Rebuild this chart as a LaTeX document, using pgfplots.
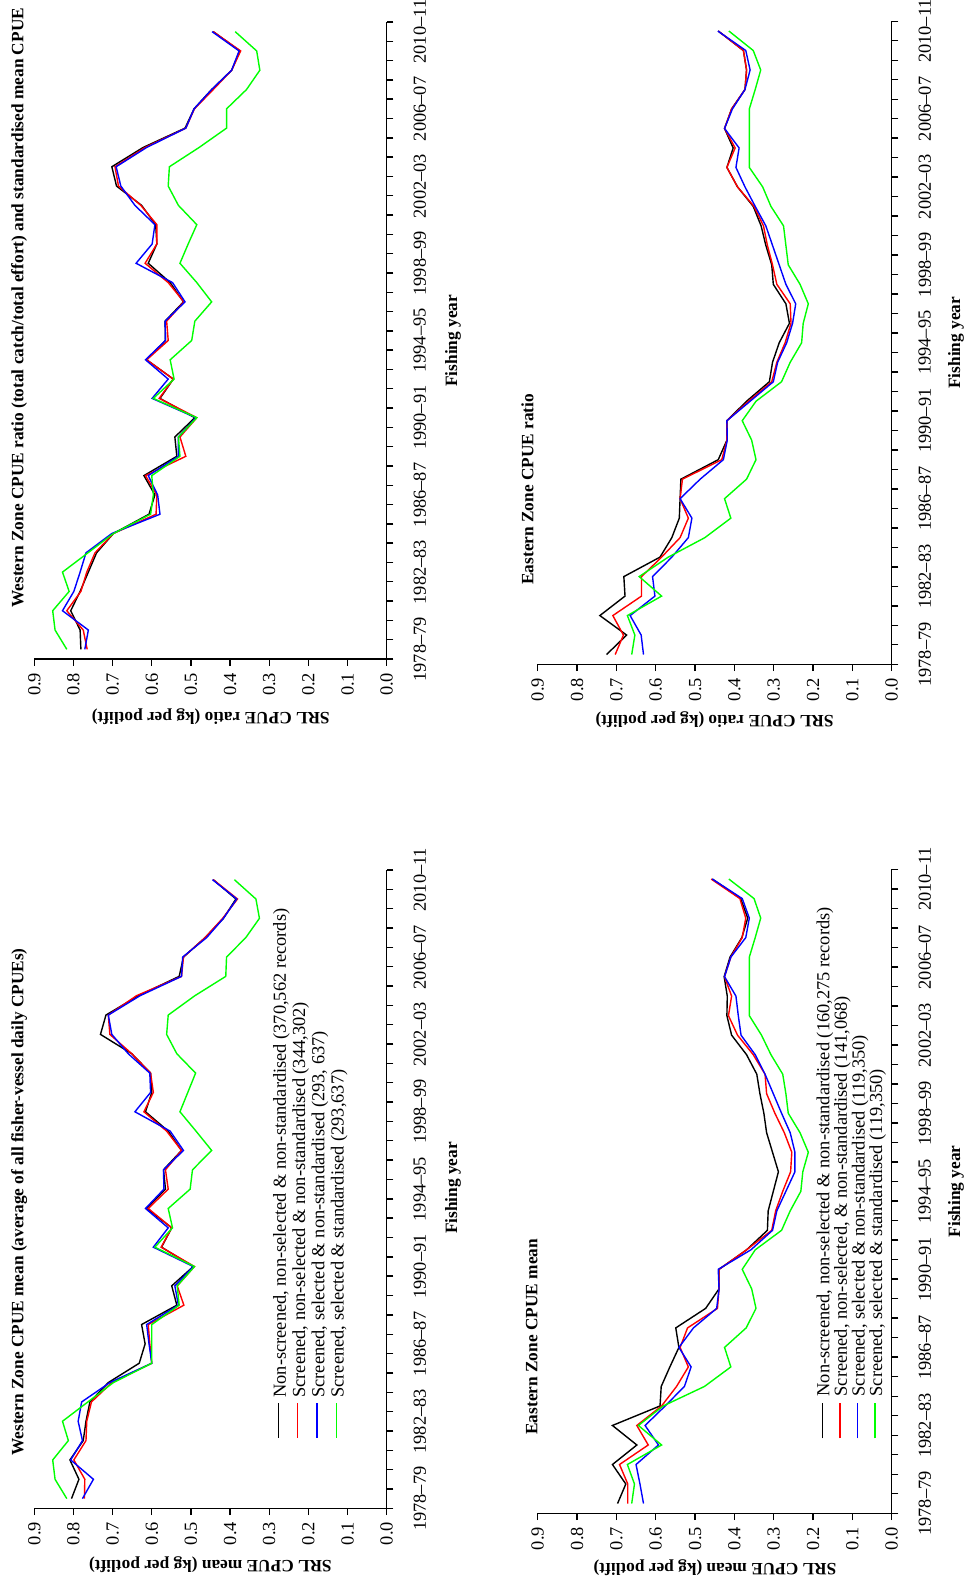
\documentclass[border=0pt]{standalone}
\usepackage{pgfplots}
\pgfplotsset{compat=1.18}
\usepackage{pgfplotstable}
\usepackage{fontspec}
\setmainfont{Liberation Serif}
\definecolor{cblack}{RGB}{0,0,0}
\definecolor{cred}{RGB}{255,0,0}
\definecolor{cblue}{RGB}{0,0,255}
\definecolor{cgreen}{RGB}{0,255,0}
\newcommand{\fs}{\fontsize{9.2}{11}\selectfont}
\newcommand{\fb}{\fontsize{8.65}{11}\selectfont\bfseries}

% Western Zone CPUE ratio
\pgfplotstableread{
yr k r b g
0 0.781 0.765 0.771 0.817
1 0.783 0.775 0.762 0.847
2 0.807 0.817 0.828 0.853
3 0.783 0.781 0.799 0.811
4 0.762 0.766 0.783 0.828
5 0.741 0.745 0.768 0.763
6 0.698 0.698 0.702 0.698
7 0.607 0.589 0.579 0.603
8 0.592 0.587 0.585 0.596
9 0.620 0.616 0.609 0.600
10 0.536 0.513 0.532 0.528
11 0.541 0.528 0.532 0.532
12 0.490 0.485 0.487 0.485
13 0.579 0.581 0.599 0.596
14 0.545 0.545 0.558 0.543
15 0.613 0.613 0.616 0.553
16 0.565 0.558 0.565 0.498
17 0.566 0.562 0.566 0.490
18 0.519 0.518 0.515 0.447
19 0.553 0.558 0.547 0.485
20 0.609 0.617 0.640 0.528
21 0.587 0.587 0.599 0.507
22 0.590 0.587 0.592 0.485
23 0.626 0.628 0.643 0.532
24 0.690 0.685 0.679 0.558
25 0.702 0.694 0.691 0.555
26 0.622 0.617 0.613 0.479
27 0.515 0.513 0.513 0.409
28 0.492 0.491 0.492 0.409
29 0.447 0.443 0.447 0.358
30 0.396 0.396 0.396 0.324
31 0.375 0.373 0.377 0.332
32 0.443 0.443 0.446 0.387
}\WR

% Western Zone CPUE mean
\pgfplotstableread{
yr k r b g
0 0.805 0.772 0.777 0.817
1 0.786 0.771 0.749 0.847
2 0.809 0.799 0.807 0.853
3 0.775 0.768 0.777 0.813
4 0.768 0.766 0.788 0.828
5 0.758 0.754 0.779 0.763
6 0.711 0.702 0.707 0.698
7 0.632 0.600 0.600 0.600
8 0.617 0.605 0.607 0.600
9 0.626 0.609 0.613 0.600
10 0.536 0.518 0.532 0.530
11 0.549 0.535 0.541 0.535
12 0.494 0.491 0.494 0.491
13 0.575 0.576 0.596 0.592
14 0.549 0.549 0.558 0.547
15 0.613 0.609 0.616 0.558
16 0.565 0.558 0.569 0.502
17 0.570 0.565 0.570 0.496
18 0.524 0.524 0.519 0.447
19 0.558 0.562 0.553 0.487
20 0.616 0.620 0.643 0.528
21 0.600 0.596 0.603 0.508
22 0.603 0.603 0.605 0.488
23 0.651 0.651 0.660 0.536
24 0.731 0.707 0.702 0.562
25 0.717 0.711 0.711 0.558
26 0.634 0.639 0.630 0.490
27 0.530 0.524 0.524 0.411
28 0.519 0.519 0.521 0.409
29 0.464 0.464 0.460 0.360
30 0.417 0.419 0.417 0.325
31 0.385 0.381 0.383 0.334
32 0.443 0.443 0.445 0.389
}\WM

% Eastern Zone CPUE ratio
\pgfplotstableread{
yr k r b g
0 0.725 0.703 0.631 0.661
1 0.674 0.682 0.637 0.653
2 0.742 0.709 0.665 0.672
3 0.678 0.636 0.602 0.585
4 0.681 0.636 0.608 0.642
5 0.589 0.585 0.559 0.568
6 0.559 0.538 0.517 0.475
7 0.540 0.517 0.508 0.409
8 0.538 0.538 0.538 0.425
9 0.536 0.532 0.487 0.369
10 0.441 0.432 0.428 0.345
11 0.419 0.419 0.418 0.356
12 0.419 0.419 0.419 0.380
13 0.369 0.364 0.360 0.345
14 0.311 0.305 0.301 0.280
15 0.303 0.292 0.290 0.258
16 0.286 0.271 0.267 0.229
17 0.260 0.256 0.252 0.225
18 0.269 0.258 0.244 0.212
19 0.301 0.292 0.269 0.233
20 0.305 0.303 0.286 0.263
21 0.320 0.316 0.303 0.269
22 0.332 0.326 0.320 0.275
23 0.352 0.350 0.347 0.307
24 0.392 0.392 0.373 0.328
25 0.419 0.419 0.396 0.362
26 0.403 0.398 0.388 0.362
27 0.425 0.425 0.425 0.362
28 0.407 0.407 0.405 0.362
29 0.373 0.373 0.373 0.347
30 0.369 0.369 0.360 0.333
31 0.377 0.377 0.371 0.352
32 0.441 0.441 0.442 0.414
}\ER

% Eastern Zone CPUE mean
\pgfplotstableread{
yr k r b g
0 0.697 0.671 0.631 0.661
1 0.676 0.671 0.640 0.654
2 0.710 0.692 0.650 0.672
3 0.648 0.619 0.593 0.585
4 0.710 0.648 0.627 0.644
5 0.589 0.585 0.576 0.581
6 0.586 0.547 0.527 0.476
7 0.564 0.517 0.510 0.409
8 0.541 0.538 0.541 0.425
9 0.549 0.519 0.504 0.370
10 0.473 0.443 0.445 0.345
11 0.439 0.439 0.439 0.356
12 0.439 0.439 0.441 0.380
13 0.369 0.369 0.358 0.347
14 0.316 0.305 0.303 0.280
15 0.314 0.295 0.292 0.258
16 0.301 0.277 0.269 0.231
17 0.288 0.257 0.246 0.226
18 0.303 0.254 0.246 0.212
19 0.318 0.273 0.258 0.233
20 0.325 0.297 0.280 0.263
21 0.335 0.318 0.301 0.269
22 0.343 0.322 0.322 0.277
23 0.369 0.352 0.347 0.307
24 0.407 0.392 0.383 0.331
25 0.419 0.415 0.390 0.362
26 0.418 0.407 0.396 0.362
27 0.426 0.425 0.425 0.362
28 0.411 0.409 0.409 0.362
29 0.381 0.380 0.371 0.347
30 0.366 0.371 0.362 0.333
31 0.384 0.386 0.380 0.350
32 0.456 0.459 0.456 0.414
}\EM

\pgfplotsset{
  panel/.style={
    scale only axis, clip=false,
    anchor=center,
    x dir=reverse,
    xmin=0, xmax=0.9, ymin=-0.5, ymax=32.5,
    axis x line=bottom, axis y line=right,
    axis line style={-, line width=0.7pt},
    tick align=outside,
    major tick length=3.4pt, minor tick length=3.4pt,
    tick style={black, line width=0.7pt},
    xtick={0,0.1,0.2,0.3,0.4,0.5,0.6,0.7,0.8,0.9},
    xticklabels={0.0,0.1,0.2,0.3,0.4,0.5,0.6,0.7,0.8,0.9},
    ytick={0,4,8,12,16,20,24,28,32},
    yticklabels={1978--79,1982--83,1986--87,1990--91,1994--95,1998--99,2002--03,2006--07,2010--11},
    minor ytick={-0.5,0.5,...,32.5},
    every major y tick/.append style={draw=none},
    yticklabel shift=6.5pt,
    xticklabel style={font=\fs, rotate=90, anchor=east},
    yticklabel style={font=\fs, rotate=90, anchor=north},
    every axis plot/.append style={line width=0.7pt, mark=none},
  },
}

\begin{document}
\begin{tikzpicture}[font=\fs]
\useasboundingbox (0,0) rectangle (484pt,789.5pt);

% Western ratio
\begin{axis}[panel, at={(105.25pt,619.25pt)}, width=176.2pt, height=318.5pt]
\addplot[cblack] table[x=k, y=yr]{\WR};
\addplot[cred] table[x=r, y=yr]{\WR};
\addplot[cblue] table[x=b, y=yr]{\WR};
\addplot[cgreen] table[x=g, y=yr]{\WR};
\end{axis}

% Western mean
\begin{axis}[panel, at={(105.25pt,194.925pt)}, width=176.2pt, height=319.15pt]
\addplot[cblack] table[x=k, y=yr]{\WM};
\addplot[cred] table[x=r, y=yr]{\WM};
\addplot[cblue] table[x=b, y=yr]{\WM};
\addplot[cgreen] table[x=g, y=yr]{\WM};
\end{axis}

% Eastern ratio
\begin{axis}[panel, at={(357.35pt,618.1pt)}, width=177pt, height=321.5pt]
\addplot[cblack] table[x=k, y=yr]{\ER};
\addplot[cred] table[x=r, y=yr]{\ER};
\addplot[cblue] table[x=b, y=yr]{\ER};
\addplot[cgreen] table[x=g, y=yr]{\ER};
\end{axis}

% Eastern mean
\begin{axis}[panel, at={(357.35pt,193.85pt)}, width=177pt, height=322pt]
\addplot[cblack] table[x=k, y=yr]{\EM};
\addplot[cred] table[x=r, y=yr]{\EM};
\addplot[cblue] table[x=b, y=yr]{\EM};
\addplot[cgreen] table[x=g, y=yr]{\EM};
\end{axis}

% titles
\node[rotate=90, anchor=base west, inner sep=0pt, font=\fb] at (11.65pt,485.5pt) {Western Zone CPUE ratio (total catch/total effort) and standardised mean CPUE};
\node[rotate=90, anchor=base west, inner sep=0pt, font=\fb] at (11.65pt,61.5pt) {Western Zone CPUE mean (average of all fisher-vessel daily CPUEs)};
\node[rotate=90, anchor=base west, inner sep=0pt, font=\fb] at (266.65pt,497pt) {Eastern Zone CPUE ratio};
\node[rotate=90, anchor=base west, inner sep=0pt, font=\fb] at (268.65pt,72pt) {Eastern Zone CPUE mean};

% value-axis labels (upside down)
\node[rotate=180, inner sep=0pt, font=\fb] at (105.4pt,431.2pt) {SRL CPUE ratio (kg per potlift)};
\node[rotate=180, inner sep=0pt, font=\fb] at (105.2pt,7pt) {SRL CPUE mean (kg per potlift)};
\node[rotate=180, inner sep=0pt, font=\fb] at (357.3pt,429.5pt) {SRL CPUE ratio (kg per potlift)};
\node[rotate=180, inner sep=0pt, font=\fb] at (357.5pt,5.6pt) {SRL CPUE mean (kg per potlift)};

% year-axis labels
\node[rotate=90, inner sep=0pt, font=\fb] at (226.5pt,619.15pt) {Fishing year};
\node[rotate=90, inner sep=0pt, font=\fb] at (226.5pt,195.5pt) {Fishing year};
\node[rotate=90, inner sep=0pt, font=\fb] at (478pt,618.1pt) {Fishing year};
\node[rotate=90, inner sep=0pt, font=\fb] at (478pt,193.85pt) {Fishing year};

% legend, Western mean
\draw[cblack, line width=0.7pt] (139.15pt,70.5pt) -- (139.15pt,88pt);
\draw[cred, line width=0.7pt] (148.8pt,70.5pt) -- (148.8pt,88pt);
\draw[cblue, line width=0.7pt] (158.45pt,70.5pt) -- (158.45pt,88pt);
\draw[cgreen, line width=0.7pt] (168.1pt,70.5pt) -- (168.1pt,88pt);
\node[rotate=90, anchor=base west, inner sep=0pt] at (142.9pt,90.5pt) {Non-screened, non-selected \& non-standardised (370,562 records)};
\node[rotate=90, anchor=base west, inner sep=0pt] at (152.55pt,90.5pt) {Screened, non-selected \& non-standardised (344,302)};
\node[rotate=90, anchor=base west, inner sep=0pt] at (162.2pt,90.5pt) {Screened, selected \& non-standardised (293, 637)};
\node[rotate=90, anchor=base west, inner sep=0pt] at (171.85pt,90.5pt) {Screened, selected \& standardised (293,637)};

% legend, Eastern mean
\draw[cblack, line width=0.7pt] (411.15pt,70.35pt) -- (411.15pt,87.85pt);
\draw[cred, line width=0.7pt] (419.95pt,70.35pt) -- (419.95pt,87.85pt);
\draw[cblue, line width=0.7pt] (428.75pt,70.35pt) -- (428.75pt,87.85pt);
\draw[cgreen, line width=0.7pt] (437.55pt,70.35pt) -- (437.55pt,87.85pt);
\node[rotate=90, anchor=base west, inner sep=0pt] at (414.65pt,91.15pt) {Non-screened, non-selected \& non-standardised (160,275 records)};
\node[rotate=90, anchor=base west, inner sep=0pt] at (423.45pt,91.15pt) {Screened, non-selected, \& non-standardised (141,068)};
\node[rotate=90, anchor=base west, inner sep=0pt] at (432.25pt,91.15pt) {Screened, selected \& non-standardised (119,350)};
\node[rotate=90, anchor=base west, inner sep=0pt] at (441.05pt,91.15pt) {Screened, selected \& standardised (119,350)};
\end{tikzpicture}
\end{document}
